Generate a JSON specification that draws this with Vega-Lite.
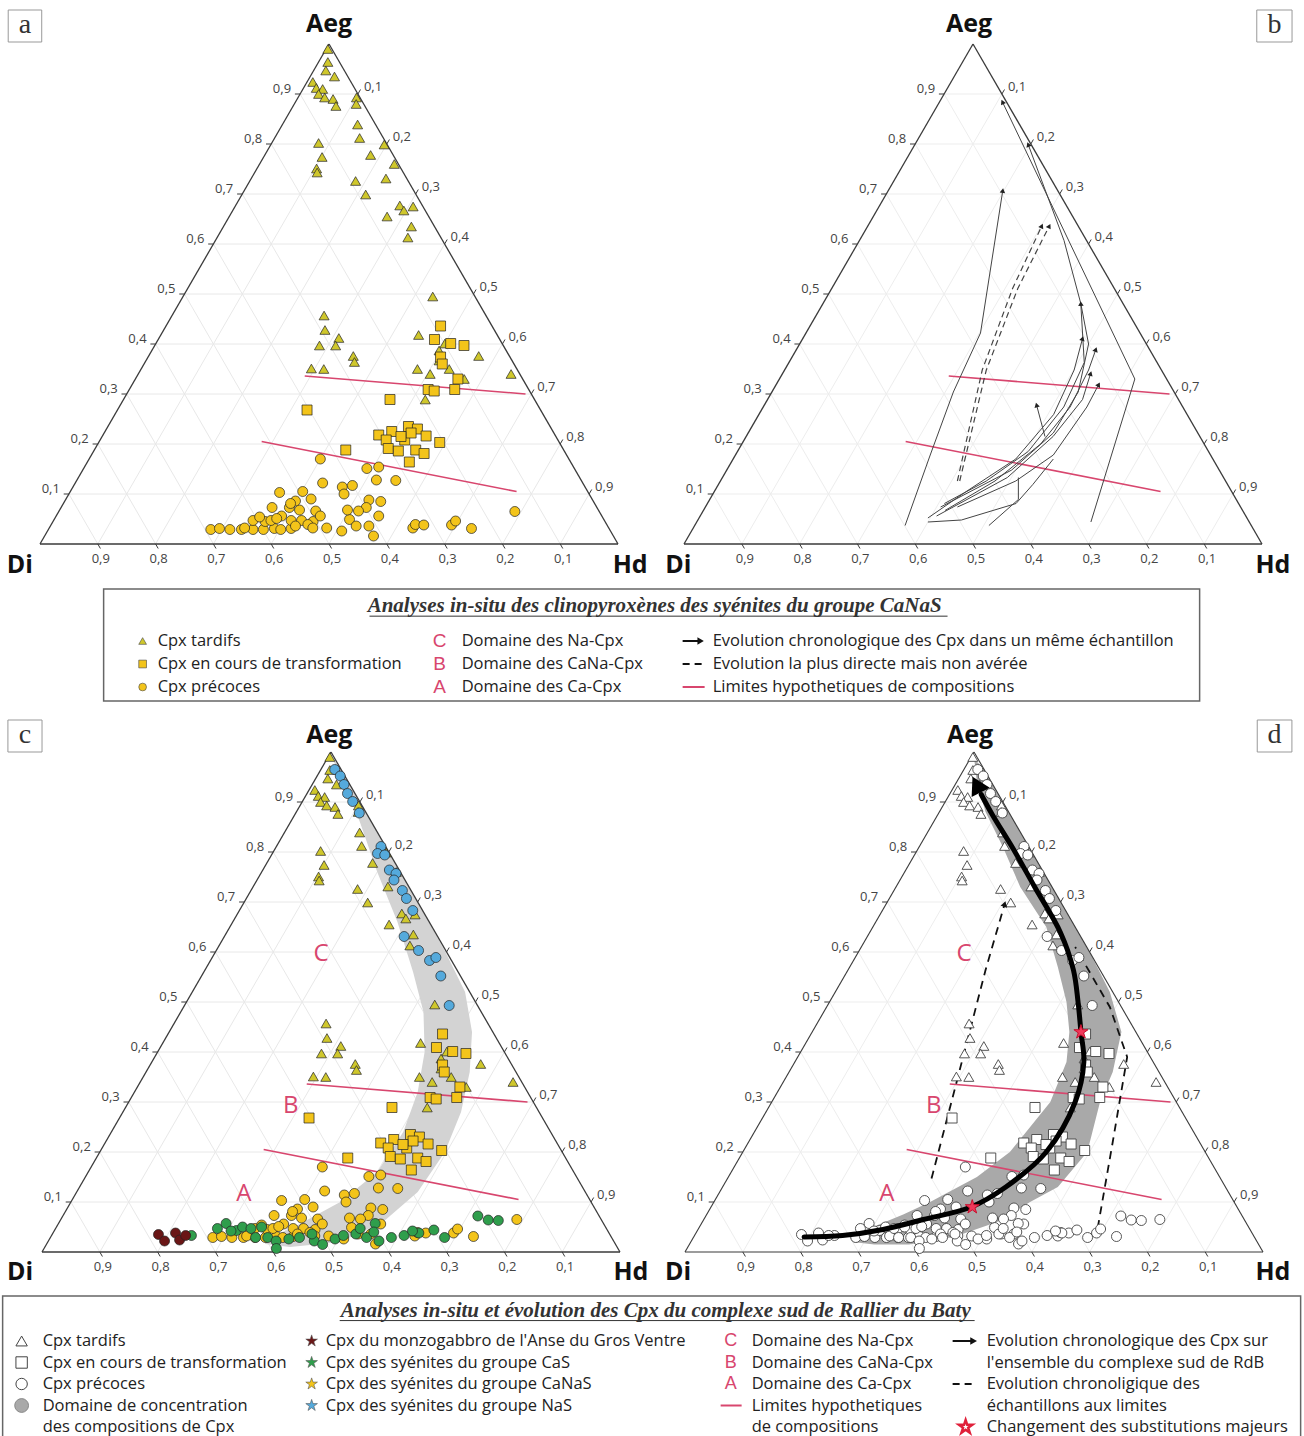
{
"$schema": "https://vega.github.io/schema/vega-lite/v6.json",
"padding": 0,
"background": "white",
"config": {"view": {"stroke": null}, "font": "Open Sans", "text": {"font": "Open Sans"}},
"spacing": 0,
"center": true,
"resolve": {"scale": {"x": "independent", "y": "independent", "shape": "independent", "fill": "independent", "color": "independent"}},
"datasets": {
"grid": [
{"aeg":0.1,"hd":0,"aeg2":0.1,"hd2":0.9},{"aeg":0,"hd":0.1,"aeg2":0.9,"hd2":0.1},{"aeg":0,"hd":0.1,"aeg2":0.1,"hd2":0},
{"aeg":0.2,"hd":0,"aeg2":0.2,"hd2":0.8},{"aeg":0,"hd":0.2,"aeg2":0.8,"hd2":0.2},{"aeg":0,"hd":0.2,"aeg2":0.2,"hd2":0},
{"aeg":0.3,"hd":0,"aeg2":0.3,"hd2":0.7},{"aeg":0,"hd":0.3,"aeg2":0.7,"hd2":0.3},{"aeg":0,"hd":0.3,"aeg2":0.3,"hd2":0},
{"aeg":0.4,"hd":0,"aeg2":0.4,"hd2":0.6},{"aeg":0,"hd":0.4,"aeg2":0.6,"hd2":0.4},{"aeg":0,"hd":0.4,"aeg2":0.4,"hd2":0},
{"aeg":0.5,"hd":0,"aeg2":0.5,"hd2":0.5},{"aeg":0,"hd":0.5,"aeg2":0.5,"hd2":0.5},{"aeg":0,"hd":0.5,"aeg2":0.5,"hd2":0},
{"aeg":0.6,"hd":0,"aeg2":0.6,"hd2":0.4},{"aeg":0,"hd":0.6,"aeg2":0.4,"hd2":0.6},{"aeg":0,"hd":0.6,"aeg2":0.6,"hd2":0},
{"aeg":0.7,"hd":0,"aeg2":0.7,"hd2":0.3},{"aeg":0,"hd":0.7,"aeg2":0.3,"hd2":0.7},{"aeg":0,"hd":0.7,"aeg2":0.7,"hd2":0},
{"aeg":0.8,"hd":0,"aeg2":0.8,"hd2":0.2},{"aeg":0,"hd":0.8,"aeg2":0.2,"hd2":0.8},{"aeg":0,"hd":0.8,"aeg2":0.8,"hd2":0},
{"aeg":0.9,"hd":0,"aeg2":0.9,"hd2":0.1},{"aeg":0,"hd":0.9,"aeg2":0.1,"hd2":0.9},{"aeg":0,"hd":0.9,"aeg2":0.9,"hd2":0}
],
"edges": [
{"aeg":0,"hd":0,"aeg2":1,"hd2":0},{"aeg":0,"hd":0,"aeg2":0,"hd2":1},{"aeg":0,"hd":1,"aeg2":1,"hd2":0}
],
"limits": [
{"aeg":0.336,"hd":0.29,"aeg2":0.30,"hd2":0.69},{"aeg":0.205,"hd":0.281,"aeg2":0.105,"hd2":0.772}
],
"ticks": [
{"ax":"L","aeg":0.1,"hd":0,"lab":"0,1"},{"ax":"L","aeg":0.2,"hd":0,"lab":"0,2"},{"ax":"L","aeg":0.3,"hd":0,"lab":"0,3"},{"ax":"L","aeg":0.4,"hd":0,"lab":"0,4"},{"ax":"L","aeg":0.5,"hd":0,"lab":"0,5"},{"ax":"L","aeg":0.6,"hd":0,"lab":"0,6"},{"ax":"L","aeg":0.7,"hd":0,"lab":"0,7"},{"ax":"L","aeg":0.8,"hd":0,"lab":"0,8"},{"ax":"L","aeg":0.9,"hd":0,"lab":"0,9"},
{"ax":"R","aeg":0.9,"hd":0.1,"lab":"0,1"},{"ax":"R","aeg":0.8,"hd":0.2,"lab":"0,2"},{"ax":"R","aeg":0.7,"hd":0.3,"lab":"0,3"},{"ax":"R","aeg":0.6,"hd":0.4,"lab":"0,4"},{"ax":"R","aeg":0.5,"hd":0.5,"lab":"0,5"},{"ax":"R","aeg":0.4,"hd":0.6,"lab":"0,6"},{"ax":"R","aeg":0.3,"hd":0.7,"lab":"0,7"},{"ax":"R","aeg":0.2,"hd":0.8,"lab":"0,8"},{"ax":"R","aeg":0.1,"hd":0.9,"lab":"0,9"},
{"ax":"B","aeg":0,"hd":0.1,"lab":"0,9"},{"ax":"B","aeg":0,"hd":0.2,"lab":"0,8"},{"ax":"B","aeg":0,"hd":0.3,"lab":"0,7"},{"ax":"B","aeg":0,"hd":0.4,"lab":"0,6"},{"ax":"B","aeg":0,"hd":0.5,"lab":"0,5"},{"ax":"B","aeg":0,"hd":0.6,"lab":"0,4"},{"ax":"B","aeg":0,"hd":0.7,"lab":"0,3"},{"ax":"B","aeg":0,"hd":0.8,"lab":"0,2"},{"ax":"B","aeg":0,"hd":0.9,"lab":"0,1"}
],
"letters": [
{"k":"C","aeg":0.596,"hd":0.185},{"k":"B","aeg":0.293,"hd":0.284},{"k":"A","aeg":0.116,"hd":0.291}
],
"bandc": [
{"aeg":0.024,"hd":0.374},{"aeg":0.056,"hd":0.418},{"aeg":0.10,"hd":0.466},{"aeg":0.16,"hd":0.50},{"aeg":0.24,"hd":0.505},{"aeg":0.32,"hd":0.49},{"aeg":0.40,"hd":0.462},{"aeg":0.48,"hd":0.42},{"aeg":0.56,"hd":0.362},{"aeg":0.66,"hd":0.285},{"aeg":0.76,"hd":0.20},{"aeg":0.86,"hd":0.12},{"aeg":0.94,"hd":0.052},{"aeg":0.99,"hd":0.006},
{"aeg":0.97,"hd":0.03},{"aeg":0.90,"hd":0.10},{"aeg":0.80,"hd":0.20},{"aeg":0.70,"hd":0.30},{"aeg":0.60,"hd":0.398},{"aeg":0.52,"hd":0.472},{"aeg":0.44,"hd":0.524},{"aeg":0.36,"hd":0.56},{"aeg":0.28,"hd":0.585},{"aeg":0.20,"hd":0.597},{"aeg":0.12,"hd":0.59},{"aeg":0.06,"hd":0.56},{"aeg":0.02,"hd":0.506},{"aeg":0.01,"hd":0.424},{"aeg":0.016,"hd":0.378}
],
"bandd": [
{"aeg":0.03,"hd":0.27},{"aeg":0.05,"hd":0.30},{"aeg":0.075,"hd":0.34},{"aeg":0.10,"hd":0.374},{"aeg":0.15,"hd":0.43},{"aeg":0.20,"hd":0.462},{"aeg":0.30,"hd":0.482},{"aeg":0.38,"hd":0.47},{"aeg":0.44,"hd":0.445},{"aeg":0.50,"hd":0.41},{"aeg":0.57,"hd":0.36},{"aeg":0.65,"hd":0.30},{"aeg":0.73,"hd":0.215},{"aeg":0.81,"hd":0.145},{"aeg":0.88,"hd":0.08},{"aeg":0.94,"hd":0.035},{"aeg":0.985,"hd":0.008},
{"aeg":0.97,"hd":0.03},{"aeg":0.90,"hd":0.10},{"aeg":0.80,"hd":0.20},{"aeg":0.70,"hd":0.30},{"aeg":0.60,"hd":0.40},{"aeg":0.52,"hd":0.475},{"aeg":0.44,"hd":0.535},{"aeg":0.36,"hd":0.56},{"aeg":0.30,"hd":0.568},{"aeg":0.20,"hd":0.596},{"aeg":0.13,"hd":0.58},{"aeg":0.10,"hd":0.547},{"aeg":0.06,"hd":0.51},{"aeg":0.03,"hd":0.45},{"aeg":0.015,"hd":0.38},{"aeg":0.015,"hd":0.32},{"aeg":0.02,"hd":0.28}
],
"paths": [
{"p":"b","id":"b1","kind":"obs","aeg":0.037,"hd":0.364},{"p":"b","id":"b1","kind":"obs","aeg":0.178,"hd":0.337},{"p":"b","id":"b1","kind":"obs","aeg":0.304,"hd":0.314},{"p":"b","id":"b1","kind":"obs","aeg":0.422,"hd":0.302},{"p":"b","id":"b1","kind":"obs","aeg":0.707,"hd":0.198},
{"p":"b","id":"b2","kind":"inf","aeg":0.126,"hd":0.41},{"p":"b","id":"b2","kind":"inf","aeg":0.348,"hd":0.342},{"p":"b","id":"b2","kind":"inf","aeg":0.511,"hd":0.313},{"p":"b","id":"b2","kind":"inf","aeg":0.636,"hd":0.301},
{"p":"b","id":"b3","kind":"inf","aeg":0.126,"hd":0.414},{"p":"b","id":"b3","kind":"inf","aeg":0.348,"hd":0.349},{"p":"b","id":"b3","kind":"inf","aeg":0.511,"hd":0.322},{"p":"b","id":"b3","kind":"inf","aeg":0.636,"hd":0.314},
{"p":"b","id":"b4","kind":"obs","aeg":0.044,"hd":0.682},{"p":"b","id":"b4","kind":"obs","aeg":0.33,"hd":0.615},{"p":"b","id":"b4","kind":"obs","aeg":0.884,"hd":0.109},
{"p":"b","id":"b5","kind":"obs","aeg":0.074,"hd":0.407},{"p":"b","id":"b5","kind":"obs","aeg":0.148,"hd":0.493},{"p":"b","id":"b5","kind":"obs","aeg":0.222,"hd":0.528},{"p":"b","id":"b5","kind":"obs","aeg":0.304,"hd":0.53},{"p":"b","id":"b5","kind":"obs","aeg":0.40,"hd":0.50},{"p":"b","id":"b5","kind":"obs","aeg":0.481,"hd":0.446},{"p":"b","id":"b5","kind":"obs","aeg":0.607,"hd":0.354},{"p":"b","id":"b5","kind":"obs","aeg":0.799,"hd":0.196},
{"p":"b","id":"b6","kind":"obs","aeg":0.052,"hd":0.396},{"p":"b","id":"b6","kind":"obs","aeg":0.104,"hd":0.435},{"p":"b","id":"b6","kind":"obs","aeg":0.170,"hd":0.489},{"p":"b","id":"b6","kind":"obs","aeg":0.259,"hd":0.51},{"p":"b","id":"b6","kind":"obs","aeg":0.348,"hd":0.501},{"p":"b","id":"b6","kind":"obs","aeg":0.411,"hd":0.484},
{"p":"b","id":"b7","kind":"obs","aeg":0.081,"hd":0.41},{"p":"b","id":"b7","kind":"obs","aeg":0.126,"hd":0.46},{"p":"b","id":"b7","kind":"obs","aeg":0.185,"hd":0.503},{"p":"b","id":"b7","kind":"obs","aeg":0.274,"hd":0.52},{"p":"b","id":"b7","kind":"obs","aeg":0.363,"hd":0.511},{"p":"b","id":"b7","kind":"obs","aeg":0.481,"hd":0.446},
{"p":"b","id":"b8","kind":"obs","aeg":0.067,"hd":0.418},{"p":"b","id":"b8","kind":"obs","aeg":0.126,"hd":0.475},{"p":"b","id":"b8","kind":"obs","aeg":0.20,"hd":0.517},{"p":"b","id":"b8","kind":"obs","aeg":0.274,"hd":0.531},{"p":"b","id":"b8","kind":"obs","aeg":0.348,"hd":0.526},{"p":"b","id":"b8","kind":"obs","aeg":0.389,"hd":0.518},
{"p":"b","id":"b9","kind":"obs","aeg":0.056,"hd":0.409},{"p":"b","id":"b9","kind":"obs","aeg":0.133,"hd":0.493},{"p":"b","id":"b9","kind":"obs","aeg":0.215,"hd":0.531},{"p":"b","id":"b9","kind":"obs","aeg":0.289,"hd":0.545},{"p":"b","id":"b9","kind":"obs","aeg":0.341,"hd":0.533},
{"p":"b","id":"b10","kind":"obs","aeg":0.074,"hd":0.436},{"p":"b","id":"b10","kind":"obs","aeg":0.126,"hd":0.511},{"p":"b","id":"b10","kind":"obs","aeg":0.178,"hd":0.55},{"p":"b","id":"b10","kind":"obs","aeg":0.274,"hd":0.56},{"p":"b","id":"b10","kind":"obs","aeg":0.319,"hd":0.558},
{"p":"b","id":"b11","kind":"obs","aeg":0.215,"hd":0.517},{"p":"b","id":"b11","kind":"obs","aeg":0.278,"hd":0.471},
{"p":"b","id":"b12","kind":"obs","aeg":0.044,"hd":0.40},{"p":"b","id":"b12","kind":"obs","aeg":0.048,"hd":0.456},{"p":"b","id":"b12","kind":"obs","aeg":0.081,"hd":0.534},{"p":"b","id":"b12","kind":"obs","aeg":0.119,"hd":0.544},{"p":"b","id":"b12","kind":"obs","aeg":0.170,"hd":0.554},
{"p":"b","id":"b13","kind":"obs","aeg":0.037,"hd":0.509},{"p":"b","id":"b13","kind":"obs","aeg":0.089,"hd":0.534},{"p":"b","id":"b13","kind":"obs","aeg":0.133,"hd":0.512},
{"p":"d","id":"d1","kind":"inf","aeg":0.147,"hd":0.353},{"p":"d","id":"d1","kind":"inf","aeg":0.336,"hd":0.301},{"p":"d","id":"d1","kind":"inf","aeg":0.564,"hd":0.238},{"p":"d","id":"d1","kind":"inf","aeg":0.696,"hd":0.205},
{"p":"d","id":"d2","kind":"inf","aeg":0.048,"hd":0.69},{"p":"d","id":"d2","kind":"inf","aeg":0.22,"hd":0.63},{"p":"d","id":"d2","kind":"inf","aeg":0.39,"hd":0.57},{"p":"d","id":"d2","kind":"inf","aeg":0.49,"hd":0.49},{"p":"d","id":"d2","kind":"inf","aeg":0.61,"hd":0.37},
{"p":"d","id":"dm","kind":"main","aeg":0.03,"hd":0.191},{"p":"d","id":"dm","kind":"main","aeg":0.033,"hd":0.256},{"p":"d","id":"dm","kind":"main","aeg":0.045,"hd":0.32},{"p":"d","id":"dm","kind":"main","aeg":0.065,"hd":0.38},{"p":"d","id":"dm","kind":"main","aeg":0.09,"hd":0.45},{"p":"d","id":"dm","kind":"main","aeg":0.13,"hd":0.49},{"p":"d","id":"dm","kind":"main","aeg":0.20,"hd":0.525},{"p":"d","id":"dm","kind":"main","aeg":0.30,"hd":0.525},{"p":"d","id":"dm","kind":"main","aeg":0.38,"hd":0.50},{"p":"d","id":"dm","kind":"main","aeg":0.44,"hd":0.465},{"p":"d","id":"dm","kind":"main","aeg":0.50,"hd":0.43},{"p":"d","id":"dm","kind":"main","aeg":0.564,"hd":0.39},{"p":"d","id":"dm","kind":"main","aeg":0.639,"hd":0.33},{"p":"d","id":"dm","kind":"main","aeg":0.73,"hd":0.24},{"p":"d","id":"dm","kind":"main","aeg":0.806,"hd":0.165},{"p":"d","id":"dm","kind":"main","aeg":0.874,"hd":0.095},{"p":"d","id":"dm","kind":"main","aeg":0.915,"hd":0.055}
],
"arrows": [
{"p":"b","aeg":0.707,"hd":0.198,"aeg0":0.422,"hd0":0.302},
{"p":"b","aeg":0.636,"hd":0.301,"aeg0":0.511,"hd0":0.313},
{"p":"b","aeg":0.636,"hd":0.314,"aeg0":0.511,"hd0":0.322},
{"p":"b","aeg":0.884,"hd":0.109,"aeg0":0.33,"hd0":0.615},
{"p":"b","aeg":0.799,"hd":0.196,"aeg0":0.607,"hd0":0.354},
{"p":"b","aeg":0.411,"hd":0.484,"aeg0":0.348,"hd0":0.501},
{"p":"b","aeg":0.481,"hd":0.446,"aeg0":0.363,"hd0":0.511},
{"p":"b","aeg":0.389,"hd":0.518,"aeg0":0.348,"hd0":0.526},
{"p":"b","aeg":0.341,"hd":0.533,"aeg0":0.289,"hd0":0.545},
{"p":"b","aeg":0.319,"hd":0.558,"aeg0":0.274,"hd0":0.56},
{"p":"b","aeg":0.278,"hd":0.471,"aeg0":0.215,"hd0":0.517},
{"p":"d","aeg":0.696,"hd":0.205,"aeg0":0.564,"hd0":0.238},
{"p":"dm","aeg":0.935,"hd":0.037,"aeg0":0.874,"hd0":0.095}
],
"stars": [
{"aeg":0.44,"hd":0.465},{"aeg":0.09,"hd":0.452}
],
"pts": [
{"grp":"CaNaS","stage":"tardif","aeg":0.99,"hd":0.003},{"grp":"CaNaS","stage":"tardif","aeg":0.964,"hd":0.016},{"grp":"CaNaS","stage":"tardif","aeg":0.947,"hd":0.021},{"grp":"CaNaS","stage":"tardif","aeg":0.935,"hd":0.042},{"grp":"CaNaS","stage":"tardif","aeg":0.924,"hd":0.010},{"grp":"CaNaS","stage":"tardif","aeg":0.912,"hd":0.022},{"grp":"CaNaS","stage":"tardif","aeg":0.910,"hd":0.034},{"grp":"CaNaS","stage":"tardif","aeg":0.900,"hd":0.032},{"grp":"CaNaS","stage":"tardif","aeg":0.893,"hd":0.046},{"grp":"CaNaS","stage":"tardif","aeg":0.890,"hd":0.062},{"grp":"CaNaS","stage":"tardif","aeg":0.876,"hd":0.074},{"grp":"CaNaS","stage":"tardif","aeg":0.893,"hd":0.101},{"grp":"CaNaS","stage":"tardif","aeg":0.880,"hd":0.107},{"grp":"CaNaS","stage":"tardif","aeg":0.839,"hd":0.130},{"grp":"CaNaS","stage":"tardif","aeg":0.812,"hd":0.147},{"grp":"CaNaS","stage":"tardif","aeg":0.799,"hd":0.196},{"grp":"CaNaS","stage":"tardif","aeg":0.778,"hd":0.183},{"grp":"CaNaS","stage":"tardif","aeg":0.760,"hd":0.233},{"grp":"CaNaS","stage":"tardif","aeg":0.731,"hd":0.233},{"grp":"CaNaS","stage":"tardif","aeg":0.726,"hd":0.183},{"grp":"CaNaS","stage":"tardif","aeg":0.699,"hd":0.214},{"grp":"CaNaS","stage":"tardif","aeg":0.802,"hd":0.081},{"grp":"CaNaS","stage":"tardif","aeg":0.774,"hd":0.101},{"grp":"CaNaS","stage":"tardif","aeg":0.751,"hd":0.103},{"grp":"CaNaS","stage":"tardif","aeg":0.743,"hd":0.108},{"grp":"CaNaS","stage":"tardif","aeg":0.677,"hd":0.284},{"grp":"CaNaS","stage":"tardif","aeg":0.667,"hd":0.296},{"grp":"CaNaS","stage":"tardif","aeg":0.675,"hd":0.308},{"grp":"CaNaS","stage":"tardif","aeg":0.655,"hd":0.273},{"grp":"CaNaS","stage":"tardif","aeg":0.635,"hd":0.325},{"grp":"CaNaS","stage":"tardif","aeg":0.613,"hd":0.330},{"grp":"CaNaS","stage":"tardif","aeg":0.495,"hd":0.432},{"grp":"CaNaS","stage":"tardif","aeg":0.457,"hd":0.263},{"grp":"CaNaS","stage":"tardif","aeg":0.428,"hd":0.279},{"grp":"CaNaS","stage":"tardif","aeg":0.412,"hd":0.311},{"grp":"CaNaS","stage":"tardif","aeg":0.397,"hd":0.285},{"grp":"CaNaS","stage":"tardif","aeg":0.397,"hd":0.313},{"grp":"CaNaS","stage":"tardif","aeg":0.376,"hd":0.354},{"grp":"CaNaS","stage":"tardif","aeg":0.364,"hd":0.362},{"grp":"CaNaS","stage":"tardif","aeg":0.351,"hd":0.294},{"grp":"CaNaS","stage":"tardif","aeg":0.350,"hd":0.316},{"grp":"CaNaS","stage":"tardif","aeg":0.418,"hd":0.446},{"grp":"CaNaS","stage":"tardif","aeg":0.387,"hd":0.497},{"grp":"CaNaS","stage":"tardif","aeg":0.401,"hd":0.500},{"grp":"CaNaS","stage":"tardif","aeg":0.376,"hd":0.571},{"grp":"CaNaS","stage":"tardif","aeg":0.350,"hd":0.478},{"grp":"CaNaS","stage":"tardif","aeg":0.340,"hd":0.505},{"grp":"CaNaS","stage":"tardif","aeg":0.350,"hd":0.533},{"grp":"CaNaS","stage":"tardif","aeg":0.330,"hd":0.569},{"grp":"CaNaS","stage":"tardif","aeg":0.340,"hd":0.645},{"grp":"CaNaS","stage":"tardif","aeg":0.289,"hd":0.522},{"grp":"CaNaS","stage":"tardif","aeg":0.367,"hd":0.507},
{"grp":"CaNaS","stage":"transfo","aeg":0.436,"hd":0.475},{"grp":"CaNaS","stage":"transfo","aeg":0.409,"hd":0.478},{"grp":"CaNaS","stage":"transfo","aeg":0.401,"hd":0.510},{"grp":"CaNaS","stage":"transfo","aeg":0.397,"hd":0.535},{"grp":"CaNaS","stage":"transfo","aeg":0.374,"hd":0.506},{"grp":"CaNaS","stage":"transfo","aeg":0.360,"hd":0.516},{"grp":"CaNaS","stage":"transfo","aeg":0.330,"hd":0.558},{"grp":"CaNaS","stage":"transfo","aeg":0.309,"hd":0.563},{"grp":"CaNaS","stage":"transfo","aeg":0.309,"hd":0.517},{"grp":"CaNaS","stage":"transfo","aeg":0.306,"hd":0.529},{"grp":"CaNaS","stage":"transfo","aeg":0.289,"hd":0.461},{"grp":"CaNaS","stage":"transfo","aeg":0.268,"hd":0.328},{"grp":"CaNaS","stage":"transfo","aeg":0.218,"hd":0.477},{"grp":"CaNaS","stage":"transfo","aeg":0.225,"hd":0.496},{"grp":"CaNaS","stage":"transfo","aeg":0.235,"hd":0.520},{"grp":"CaNaS","stage":"transfo","aeg":0.230,"hd":0.538},{"grp":"CaNaS","stage":"transfo","aeg":0.216,"hd":0.560},{"grp":"CaNaS","stage":"transfo","aeg":0.203,"hd":0.590},{"grp":"CaNaS","stage":"transfo","aeg":0.208,"hd":0.495},{"grp":"CaNaS","stage":"transfo","aeg":0.208,"hd":0.527},{"grp":"CaNaS","stage":"transfo","aeg":0.191,"hd":0.507},{"grp":"CaNaS","stage":"transfo","aeg":0.186,"hd":0.527},{"grp":"CaNaS","stage":"transfo","aeg":0.188,"hd":0.556},{"grp":"CaNaS","stage":"transfo","aeg":0.181,"hd":0.574},{"grp":"CaNaS","stage":"transfo","aeg":0.164,"hd":0.557},{"grp":"CaNaS","stage":"transfo","aeg":0.188,"hd":0.435},{"grp":"CaNaS","stage":"transfo","aeg":0.222,"hd":0.531},{"grp":"CaNaS","stage":"transfo","aeg":0.215,"hd":0.517},
{"grp":"CaNaS","stage":"precoce","aeg":0.029,"hd":0.281},{"grp":"CaNaS","stage":"precoce","aeg":0.031,"hd":0.295},{"grp":"CaNaS","stage":"precoce","aeg":0.029,"hd":0.314},{"grp":"CaNaS","stage":"precoce","aeg":0.029,"hd":0.334},{"grp":"CaNaS","stage":"precoce","aeg":0.029,"hd":0.354},{"grp":"CaNaS","stage":"precoce","aeg":0.029,"hd":0.372},{"grp":"CaNaS","stage":"precoce","aeg":0.031,"hd":0.390},{"grp":"CaNaS","stage":"precoce","aeg":0.029,"hd":0.402},{"grp":"CaNaS","stage":"precoce","aeg":0.031,"hd":0.419},{"grp":"CaNaS","stage":"precoce","aeg":0.032,"hd":0.480},{"grp":"CaNaS","stage":"precoce","aeg":0.047,"hd":0.345},{"grp":"CaNaS","stage":"precoce","aeg":0.045,"hd":0.367},{"grp":"CaNaS","stage":"precoce","aeg":0.047,"hd":0.376},{"grp":"CaNaS","stage":"precoce","aeg":0.047,"hd":0.411},{"grp":"CaNaS","stage":"precoce","aeg":0.047,"hd":0.429},{"grp":"CaNaS","stage":"precoce","aeg":0.045,"hd":0.450},{"grp":"CaNaS","stage":"precoce","aeg":0.049,"hd":0.511},{"grp":"CaNaS","stage":"precoce","aeg":0.036,"hd":0.529},{"grp":"CaNaS","stage":"precoce","aeg":0.036,"hd":0.551},{"grp":"CaNaS","stage":"precoce","aeg":0.016,"hd":0.569},{"grp":"CaNaS","stage":"precoce","aeg":0.073,"hd":0.365},{"grp":"CaNaS","stage":"precoce","aeg":0.073,"hd":0.395},{"grp":"CaNaS","stage":"precoce","aeg":0.068,"hd":0.415},{"grp":"CaNaS","stage":"precoce","aeg":0.066,"hd":0.444},{"grp":"CaNaS","stage":"precoce","aeg":0.056,"hd":0.390},{"grp":"CaNaS","stage":"precoce","aeg":0.068,"hd":0.498},{"grp":"CaNaS","stage":"precoce","aeg":0.056,"hd":0.558},{"grp":"CaNaS","stage":"precoce","aeg":0.032,"hd":0.629},{"grp":"CaNaS","stage":"precoce","aeg":0.039,"hd":0.630},{"grp":"CaNaS","stage":"precoce","aeg":0.038,"hd":0.645},{"grp":"CaNaS","stage":"precoce","aeg":0.038,"hd":0.693},{"grp":"CaNaS","stage":"precoce","aeg":0.046,"hd":0.696},{"grp":"CaNaS","stage":"precoce","aeg":0.031,"hd":0.731},{"grp":"CaNaS","stage":"precoce","aeg":0.065,"hd":0.789},{"grp":"CaNaS","stage":"precoce","aeg":0.103,"hd":0.363},{"grp":"CaNaS","stage":"precoce","aeg":0.105,"hd":0.402},{"grp":"CaNaS","stage":"precoce","aeg":0.090,"hd":0.424},{"grp":"CaNaS","stage":"precoce","aeg":0.086,"hd":0.399},{"grp":"CaNaS","stage":"precoce","aeg":0.081,"hd":0.393},{"grp":"CaNaS","stage":"precoce","aeg":0.088,"hd":0.525},{"grp":"CaNaS","stage":"precoce","aeg":0.085,"hd":0.547},{"grp":"CaNaS","stage":"precoce","aeg":0.073,"hd":0.528},{"grp":"CaNaS","stage":"precoce","aeg":0.114,"hd":0.466},{"grp":"CaNaS","stage":"precoce","aeg":0.100,"hd":0.476},{"grp":"CaNaS","stage":"precoce","aeg":0.117,"hd":0.482},{"grp":"CaNaS","stage":"precoce","aeg":0.122,"hd":0.428},{"grp":"CaNaS","stage":"precoce","aeg":0.128,"hd":0.518},{"grp":"CaNaS","stage":"precoce","aeg":0.127,"hd":0.552},{"grp":"CaNaS","stage":"precoce","aeg":0.151,"hd":0.490},{"grp":"CaNaS","stage":"precoce","aeg":0.154,"hd":0.509},{"grp":"CaNaS","stage":"precoce","aeg":0.170,"hd":0.400},{"grp":"CaNaS","stage":"precoce","aeg":0.054,"hd":0.353},{"grp":"CaNaS","stage":"precoce","aeg":0.051,"hd":0.384},{"grp":"CaNaS","stage":"precoce","aeg":0.036,"hd":0.424},{"grp":"CaNaS","stage":"precoce","aeg":0.039,"hd":0.444},{"grp":"CaNaS","stage":"precoce","aeg":0.032,"hd":0.456},{"grp":"CaNaS","stage":"precoce","aeg":0.056,"hd":0.457},{"grp":"CaNaS","stage":"precoce","aeg":0.032,"hd":0.338},{"grp":"CaNaS","stage":"precoce","aeg":0.026,"hd":0.509},{"grp":"CaNaS","stage":"precoce","aeg":0.066,"hd":0.518},
{"grp":"NaS","stage":"precoce","aeg":0.965,"hd":0.024},{"grp":"NaS","stage":"precoce","aeg":0.952,"hd":0.040},{"grp":"NaS","stage":"precoce","aeg":0.935,"hd":0.055},{"grp":"NaS","stage":"precoce","aeg":0.917,"hd":0.070},{"grp":"NaS","stage":"precoce","aeg":0.901,"hd":0.087},{"grp":"NaS","stage":"precoce","aeg":0.878,"hd":0.110},{"grp":"NaS","stage":"precoce","aeg":0.811,"hd":0.181},{"grp":"NaS","stage":"precoce","aeg":0.797,"hd":0.182},{"grp":"NaS","stage":"precoce","aeg":0.794,"hd":0.196},{"grp":"NaS","stage":"precoce","aeg":0.764,"hd":0.219},{"grp":"NaS","stage":"precoce","aeg":0.757,"hd":0.234},{"grp":"NaS","stage":"precoce","aeg":0.744,"hd":0.237},{"grp":"NaS","stage":"precoce","aeg":0.723,"hd":0.262},{"grp":"NaS","stage":"precoce","aeg":0.707,"hd":0.277},{"grp":"NaS","stage":"precoce","aeg":0.683,"hd":0.300},{"grp":"NaS","stage":"precoce","aeg":0.631,"hd":0.311},{"grp":"NaS","stage":"precoce","aeg":0.603,"hd":0.350},{"grp":"NaS","stage":"precoce","aeg":0.583,"hd":0.379},{"grp":"NaS","stage":"precoce","aeg":0.589,"hd":0.387},{"grp":"NaS","stage":"precoce","aeg":0.552,"hd":0.414},{"grp":"NaS","stage":"precoce","aeg":0.493,"hd":0.458},
{"grp":"CaS","stage":"precoce","aeg":0.033,"hd":0.242},{"grp":"CaS","stage":"precoce","aeg":0.047,"hd":0.280},{"grp":"CaS","stage":"precoce","aeg":0.057,"hd":0.290},{"grp":"CaS","stage":"precoce","aeg":0.043,"hd":0.315},{"grp":"CaS","stage":"precoce","aeg":0.050,"hd":0.322},{"grp":"CaS","stage":"precoce","aeg":0.047,"hd":0.338},{"grp":"CaS","stage":"precoce","aeg":0.029,"hd":0.355},{"grp":"CaS","stage":"precoce","aeg":0.029,"hd":0.376},{"grp":"CaS","stage":"precoce","aeg":0.022,"hd":0.394},{"grp":"CaS","stage":"precoce","aeg":0.007,"hd":0.402},{"grp":"CaS","stage":"precoce","aeg":0.026,"hd":0.414},{"grp":"CaS","stage":"precoce","aeg":0.029,"hd":0.431},{"grp":"CaS","stage":"precoce","aeg":0.022,"hd":0.460},{"grp":"CaS","stage":"precoce","aeg":0.015,"hd":0.478},{"grp":"CaS","stage":"precoce","aeg":0.026,"hd":0.494},{"grp":"CaS","stage":"precoce","aeg":0.033,"hd":0.505},{"grp":"CaS","stage":"precoce","aeg":0.036,"hd":0.525},{"grp":"CaS","stage":"precoce","aeg":0.029,"hd":0.547},{"grp":"CaS","stage":"precoce","aeg":0.057,"hd":0.548},{"grp":"CaS","stage":"precoce","aeg":0.040,"hd":0.554},{"grp":"CaS","stage":"precoce","aeg":0.022,"hd":0.572},{"grp":"CaS","stage":"precoce","aeg":0.029,"hd":0.590},{"grp":"CaS","stage":"precoce","aeg":0.033,"hd":0.610},{"grp":"CaS","stage":"precoce","aeg":0.038,"hd":0.633},{"grp":"CaS","stage":"precoce","aeg":0.044,"hd":0.656},{"grp":"CaS","stage":"precoce","aeg":0.029,"hd":0.682},{"grp":"CaS","stage":"precoce","aeg":0.072,"hd":0.718},{"grp":"CaS","stage":"precoce","aeg":0.064,"hd":0.740},{"grp":"CaS","stage":"precoce","aeg":0.063,"hd":0.758},{"grp":"CaS","stage":"precoce","aeg":0.042,"hd":0.306},{"grp":"CaS","stage":"precoce","aeg":0.050,"hd":0.355},{"grp":"CaS","stage":"precoce","aeg":0.036,"hd":0.449},{"grp":"CaS","stage":"precoce","aeg":0.047,"hd":0.527},{"grp":"CaS","stage":"precoce","aeg":0.042,"hd":0.620},
{"grp":"MGV","stage":"precoce","aeg":0.035,"hd":0.184},{"grp":"MGV","stage":"precoce","aeg":0.022,"hd":0.201},{"grp":"MGV","stage":"precoce","aeg":0.038,"hd":0.212},{"grp":"MGV","stage":"precoce","aeg":0.024,"hd":0.226},{"grp":"MGV","stage":"precoce","aeg":0.033,"hd":0.232}
],
"leg1": [
{"c":0,"r":0,"t":"Cpx tardifs","k":"tardif"},{"c":0,"r":1,"t":"Cpx en cours de transformation","k":"transfo"},{"c":0,"r":2,"t":"Cpx précoces","k":"precoce"},
{"c":1,"r":0,"t":"Domaine des Na-Cpx","k":"C"},{"c":1,"r":1,"t":"Domaine des CaNa-Cpx","k":"B"},{"c":1,"r":2,"t":"Domaine des Ca-Cpx","k":"A"},
{"c":2,"r":0,"t":"Evolution chronologique des Cpx dans un même échantillon","k":"arrow"},{"c":2,"r":1,"t":"Evolution la plus directe mais non avérée","k":"dash"},{"c":2,"r":2,"t":"Limites hypothetiques de compositions","k":"limit"}
],
"leg2": [
{"c":0,"r":0,"t":"Cpx tardifs","k":"tardif"},{"c":0,"r":1,"t":"Cpx en cours de transformation","k":"transfo"},{"c":0,"r":2,"t":"Cpx précoces","k":"precoce"},{"c":0,"r":3,"t":"Domaine de concentration","k":"band"},{"c":0,"r":4,"t":"des compositions de Cpx","k":""},
{"c":1,"r":0,"t":"Cpx du monzogabbro de l'Anse du Gros Ventre","k":"MGV"},{"c":1,"r":1,"t":"Cpx des syénites du groupe CaS","k":"CaS"},{"c":1,"r":2,"t":"Cpx des syénites du groupe CaNaS","k":"CaNaS"},{"c":1,"r":3,"t":"Cpx des syénites du groupe NaS","k":"NaS"},
{"c":2,"r":0,"t":"Domaine des Na-Cpx","k":"C"},{"c":2,"r":1,"t":"Domaine des CaNa-Cpx","k":"B"},{"c":2,"r":2,"t":"Domaine des Ca-Cpx","k":"A"},{"c":2,"r":3,"t":"Limites hypothetiques","k":"limit"},{"c":2,"r":4,"t":"de compositions","k":""},
{"c":3,"r":0,"t":"Evolution chronologique des Cpx sur","k":"arrow"},{"c":3,"r":1,"t":"l'ensemble du complexe sud de RdB","k":""},{"c":3,"r":2,"t":"Evolution chronoligique des","k":"dash"},{"c":3,"r":3,"t":"échantillons aux limites","k":""},{"c":3,"r":4,"t":"Changement des substitutions majeurs","k":"change"}
]
},
"vconcat": [
{"hconcat": [
{"width": 652, "height": 588,
 "layer": [
 {"encoding": {"x": {"field":"X","type":"quantitative","scale":{"domain":[-0.0692,1.0588],"nice":false,"zero":false},"axis":null},
               "y": {"field":"aeg","type":"quantitative","scale":{"domain":[-0.088,1.088],"nice":false,"zero":false},"axis":null}},
  "layer": [
  {"data":{"name":"grid"},"transform":[{"calculate":"datum.hd+datum.aeg/2","as":"X"},{"calculate":"datum.hd2+datum.aeg2/2","as":"X2"}],"mark":{"type":"rule","stroke":"#e8e8e8","strokeWidth":1},"encoding":{"x2":{"field":"X2"},"y2":{"field":"aeg2"}}},
  {"data":{"name":"edges"},"transform":[{"calculate":"datum.hd+datum.aeg/2","as":"X"},{"calculate":"datum.hd2+datum.aeg2/2","as":"X2"}],"mark":{"type":"rule","stroke":"#3a3a3a","strokeWidth":1.3},"encoding":{"x2":{"field":"X2"},"y2":{"field":"aeg2"}}},
  {"data":{"name":"ticks"},"transform":[{"calculate":"datum.hd+datum.aeg/2","as":"X"},{"calculate":"datum.ax=='R' ? datum.aeg+0.009 : (datum.ax=='B' ? -0.009 : datum.aeg)","as":"aeg2"},{"calculate":"datum.ax=='L' ? -0.009 : (datum.ax=='B' ? datum.hd+0.009 : datum.hd)","as":"hd2"},{"calculate":"datum.hd2+datum.aeg2/2","as":"X2"}],"mark":{"type":"rule","stroke":"#3a3a3a","strokeWidth":1},"encoding":{"x2":{"field":"X2"},"y2":{"field":"aeg2"}}},
  {"data":{"name":"ticks"},"transform":[{"filter":"datum.ax=='L'"},{"calculate":"datum.hd+datum.aeg/2","as":"X"}],"mark":{"type":"text","align":"right","baseline":"middle","dx":-9,"dy":-5,"fontSize":13,"color":"#444"},"encoding":{"text":{"field":"lab"}}},
  {"data":{"name":"ticks"},"transform":[{"filter":"datum.ax=='R'"},{"calculate":"datum.hd+datum.aeg/2","as":"X"}],"mark":{"type":"text","align":"left","baseline":"middle","dx":6,"dy":-7,"fontSize":13,"color":"#444"},"encoding":{"text":{"field":"lab"}}},
  {"data":{"name":"ticks"},"transform":[{"filter":"datum.ax=='B'"},{"calculate":"datum.hd+datum.aeg/2","as":"X"}],"mark":{"type":"text","align":"center","baseline":"middle","dx":3,"dy":15,"fontSize":13,"color":"#444"},"encoding":{"text":{"field":"lab"}}},
  {"data":{"name":"limits"},"transform":[{"calculate":"datum.hd+datum.aeg/2","as":"X"},{"calculate":"datum.hd2+datum.aeg2/2","as":"X2"}],"mark":{"type":"rule","stroke":"#d8466e","strokeWidth":1.6},"encoding":{"x2":{"field":"X2"},"y2":{"field":"aeg2"}}},
  {"data":{"name":"pts"},"transform":[{"filter":"datum.grp=='CaNaS'"},{"calculate":"datum.hd+datum.aeg/2","as":"X"}],"mark":{"type":"point","filled":true,"size":100,"stroke":"#222","strokeWidth":0.7,"opacity":1},
   "encoding":{"shape":{"field":"stage","type":"nominal","scale":{"domain":["tardif","transfo","precoce"],"range":["triangle-up","square","circle"]},"legend":null},
               "fill":{"field":"stage","type":"nominal","scale":{"domain":["tardif","transfo","precoce"],"range":["#cfc72c","#f3c41a","#f3c41a"]},"legend":null}}}
  ]},
 {"layer": [
  {"data":{"values":[{}]},"mark":{"type":"text","text":"Aeg","fontSize":25,"fontWeight":"bold","color":"#111","baseline":"middle"},"encoding":{"x":{"datum":0.5,"type":"quantitative"},"y":{"datum":1.04,"type":"quantitative"}}},
  {"data":{"values":[{}]},"mark":{"type":"text","text":"Di","fontSize":25,"fontWeight":"bold","color":"#111","baseline":"middle"},"encoding":{"x":{"datum":-0.035,"type":"quantitative"},"y":{"datum":-0.042,"type":"quantitative"}}},
  {"data":{"values":[{}]},"mark":{"type":"text","text":"Hd","fontSize":25,"fontWeight":"bold","color":"#111","baseline":"middle"},"encoding":{"x":{"datum":1.021,"type":"quantitative"},"y":{"datum":-0.042,"type":"quantitative"}}},
  {"data":{"values":[{}]},"mark":{"type":"rect","fill":"#fff","stroke":"#999","strokeWidth":1},"encoding":{"x":{"datum":-0.055,"type":"quantitative"},"x2":{"datum":0.003},"y":{"datum":1.068,"type":"quantitative"},"y2":{"datum":1.004}}},
  {"data":{"values":[{}]},"mark":{"type":"text","text":"a","font":"Liberation Serif","fontSize":28,"color":"#333","baseline":"middle"},"encoding":{"x":{"datum":-0.026,"type":"quantitative"},"y":{"datum":1.038,"type":"quantitative"}}}
 ]}
 ]},
{"width": 652, "height": 588,
 "layer": [
 {"encoding": {"x": {"field":"X","type":"quantitative","scale":{"domain":[-0.0554,1.0727],"nice":false,"zero":false},"axis":null},
               "y": {"field":"aeg","type":"quantitative","scale":{"domain":[-0.088,1.088],"nice":false,"zero":false},"axis":null}},
  "layer": [
  {"data":{"name":"grid"},"transform":[{"calculate":"datum.hd+datum.aeg/2","as":"X"},{"calculate":"datum.hd2+datum.aeg2/2","as":"X2"}],"mark":{"type":"rule","stroke":"#ededed","strokeWidth":1},"encoding":{"x2":{"field":"X2"},"y2":{"field":"aeg2"}}},
  {"data":{"name":"edges"},"transform":[{"calculate":"datum.hd+datum.aeg/2","as":"X"},{"calculate":"datum.hd2+datum.aeg2/2","as":"X2"}],"mark":{"type":"rule","stroke":"#3a3a3a","strokeWidth":1.3},"encoding":{"x2":{"field":"X2"},"y2":{"field":"aeg2"}}},
  {"data":{"name":"ticks"},"transform":[{"calculate":"datum.hd+datum.aeg/2","as":"X"},{"calculate":"datum.ax=='R' ? datum.aeg+0.009 : (datum.ax=='B' ? -0.009 : datum.aeg)","as":"aeg2"},{"calculate":"datum.ax=='L' ? -0.009 : (datum.ax=='B' ? datum.hd+0.009 : datum.hd)","as":"hd2"},{"calculate":"datum.hd2+datum.aeg2/2","as":"X2"}],"mark":{"type":"rule","stroke":"#3a3a3a","strokeWidth":1},"encoding":{"x2":{"field":"X2"},"y2":{"field":"aeg2"}}},
  {"data":{"name":"ticks"},"transform":[{"filter":"datum.ax=='L'"},{"calculate":"datum.hd+datum.aeg/2","as":"X"}],"mark":{"type":"text","align":"right","baseline":"middle","dx":-9,"dy":-5,"fontSize":13,"color":"#444"},"encoding":{"text":{"field":"lab"}}},
  {"data":{"name":"ticks"},"transform":[{"filter":"datum.ax=='R'"},{"calculate":"datum.hd+datum.aeg/2","as":"X"}],"mark":{"type":"text","align":"left","baseline":"middle","dx":6,"dy":-7,"fontSize":13,"color":"#444"},"encoding":{"text":{"field":"lab"}}},
  {"data":{"name":"ticks"},"transform":[{"filter":"datum.ax=='B'"},{"calculate":"datum.hd+datum.aeg/2","as":"X"}],"mark":{"type":"text","align":"center","baseline":"middle","dx":3,"dy":15,"fontSize":13,"color":"#444"},"encoding":{"text":{"field":"lab"}}},
  {"data":{"name":"limits"},"transform":[{"calculate":"datum.hd+datum.aeg/2","as":"X"},{"calculate":"datum.hd2+datum.aeg2/2","as":"X2"}],"mark":{"type":"rule","stroke":"#d8466e","strokeWidth":1.6},"encoding":{"x2":{"field":"X2"},"y2":{"field":"aeg2"}}},
  {"data":{"name":"paths"},"transform":[{"filter":"datum.p=='b' && datum.kind=='obs'"},{"calculate":"datum.hd+datum.aeg/2","as":"X"}],"mark":{"type":"line","stroke":"#444","strokeWidth":1},"encoding":{"detail":{"field":"id"},"order":{"value":null}}},
  {"data":{"name":"paths"},"transform":[{"filter":"datum.p=='b' && datum.kind=='inf'"},{"calculate":"datum.hd+datum.aeg/2","as":"X"}],"mark":{"type":"line","stroke":"#444","strokeWidth":1.2,"strokeDash":[6,4]},"encoding":{"detail":{"field":"id"},"order":{"value":null}}},
  {"data":{"name":"arrows"},"transform":[{"filter":"datum.p=='b'"},{"calculate":"datum.hd+datum.aeg/2","as":"X"},{"calculate":"atan2((datum.hd+datum.aeg/2-datum.hd0-datum.aeg0/2)*578,(datum.aeg-datum.aeg0)*500)*180/PI","as":"ang"}],"mark":{"type":"point","shape":"triangle-up","filled":true,"fill":"#222","size":30,"opacity":1},"encoding":{"angle":{"field":"ang","type":"quantitative","scale":null}}}
  ]},
 {"layer": [
  {"data":{"values":[{}]},"mark":{"type":"text","text":"Aeg","fontSize":25,"fontWeight":"bold","color":"#111","baseline":"middle"},"encoding":{"x":{"datum":0.493,"type":"quantitative"},"y":{"datum":1.04,"type":"quantitative"}}},
  {"data":{"values":[{}]},"mark":{"type":"text","text":"Di","fontSize":25,"fontWeight":"bold","color":"#111","baseline":"middle"},"encoding":{"x":{"datum":-0.01,"type":"quantitative"},"y":{"datum":-0.042,"type":"quantitative"}}},
  {"data":{"values":[{}]},"mark":{"type":"text","text":"Hd","fontSize":25,"fontWeight":"bold","color":"#111","baseline":"middle"},"encoding":{"x":{"datum":1.019,"type":"quantitative"},"y":{"datum":-0.042,"type":"quantitative"}}},
  {"data":{"values":[{}]},"mark":{"type":"rect","fill":"#fff","stroke":"#999","strokeWidth":1},"encoding":{"x":{"datum":0.991,"type":"quantitative"},"x2":{"datum":1.052},"y":{"datum":1.068,"type":"quantitative"},"y2":{"datum":1.004}}},
  {"data":{"values":[{}]},"mark":{"type":"text","text":"b","font":"Liberation Serif","fontSize":28,"color":"#333","baseline":"middle"},"encoding":{"x":{"datum":1.0215,"type":"quantitative"},"y":{"datum":1.038,"type":"quantitative"}}}
 ]}
 ]}
], "spacing": 0, "bounds": "flush", "resolve": {"scale": {"x": "independent", "y": "independent", "shape": "independent", "fill": "independent", "color": "independent"}}},
{"width": 1096, "height": 112,
 "view": {"stroke": "#666", "strokeWidth": 1.5},
 "data": {"name": "leg1"},
 "layer": [
 {"encoding": {"x": {"field":"c","type":"quantitative","scale":{"domain":[0,1,2],"range":[54,358,609]},"axis":null},
               "y": {"field":"r","type":"quantitative","scale":{"domain":[0,2],"range":[52,98]},"axis":null}},
  "layer": [
  {"mark":{"type":"text","align":"left","baseline":"middle","fontSize":16.5,"color":"#222"},"encoding":{"text":{"field":"t"}}},
  {"transform":[{"filter":"datum.c==0"}],"mark":{"type":"point","filled":true,"size":60,"stroke":"#444","strokeWidth":0.6,"opacity":1,"xOffset":-15},
   "encoding":{"shape":{"field":"k","type":"nominal","scale":{"domain":["tardif","transfo","precoce"],"range":["triangle-up","square","circle"]},"legend":null},
               "fill":{"field":"k","type":"nominal","scale":{"domain":["tardif","transfo","precoce"],"range":["#cfc72c","#f3c41a","#f3c41a"]},"legend":null}}},
  {"transform":[{"filter":"datum.c==1"}],"mark":{"type":"text","align":"center","baseline":"middle","font":"Liberation Sans","fontSize":19,"color":"#d8466e","xOffset":-22},"encoding":{"text":{"field":"k"}}},
  {"transform":[{"filter":"datum.k=='arrow'"}],"mark":{"type":"rule","stroke":"#111","strokeWidth":2,"xOffset":-30,"x2Offset":-13},"encoding":{"x2":{"field":"c"}}},
  {"transform":[{"filter":"datum.k=='arrow'"}],"mark":{"type":"point","shape":"triangle-right","filled":true,"fill":"#111","size":55,"opacity":1,"xOffset":-12}},
  {"transform":[{"filter":"datum.k=='dash'"}],"mark":{"type":"rule","stroke":"#111","strokeWidth":2,"strokeDash":[7,5],"xOffset":-30,"x2Offset":-8},"encoding":{"x2":{"field":"c"}}},
  {"transform":[{"filter":"datum.k=='limit'"}],"mark":{"type":"rule","stroke":"#d8466e","strokeWidth":2,"xOffset":-30,"x2Offset":-8},"encoding":{"x2":{"field":"c"}}}
  ]},
 {"layer": [
  {"data":{"values":[{}]},"mark":{"type":"text","text":"Analyses in-situ des clinopyroxènes des syénites du groupe CaNaS","font":"Liberation Serif","fontStyle":"italic","fontWeight":"bold","fontSize":21,"color":"#333","align":"center","baseline":"middle"},
   "encoding":{"x":{"datum":1.769,"type":"quantitative","scale":{"domain":[0,1,2],"range":[54,358,609]}},"y":{"datum":-1.52,"type":"quantitative","scale":{"domain":[0,2],"range":[52,98]}}}},
  {"data":{"values":[{}]},"mark":{"type":"rule","stroke":"#333","strokeWidth":1},
   "encoding":{"x":{"datum":0.697,"type":"quantitative","scale":{"domain":[0,1,2],"range":[54,358,609]}},"x2":{"datum":2.936},"y":{"datum":-1.08,"type":"quantitative","scale":{"domain":[0,2],"range":[52,98]}}}}
 ]}
 ]},
{"hconcat": [
{"width": 652, "height": 593,
 "layer": [
 {"encoding": {"x": {"field":"X","type":"quantitative","scale":{"domain":[-0.0727,1.0554],"nice":false,"zero":false},"axis":null},
               "y": {"field":"aeg","type":"quantitative","scale":{"domain":[-0.086,1.10],"nice":false,"zero":false},"axis":null}},
  "layer": [
  {"data":{"name":"grid"},"transform":[{"calculate":"datum.hd+datum.aeg/2","as":"X"},{"calculate":"datum.hd2+datum.aeg2/2","as":"X2"}],"mark":{"type":"rule","stroke":"#e8e8e8","strokeWidth":1},"encoding":{"x2":{"field":"X2"},"y2":{"field":"aeg2"}}},
  {"data":{"name":"bandc"},"transform":[{"calculate":"datum.hd+datum.aeg/2","as":"X"}],"mark":{"type":"line","filled":true,"fill":"#d3d3d3","stroke":null,"opacity":1},"encoding":{"order":{"value":null}}},
  {"data":{"name":"edges"},"transform":[{"calculate":"datum.hd+datum.aeg/2","as":"X"},{"calculate":"datum.hd2+datum.aeg2/2","as":"X2"}],"mark":{"type":"rule","stroke":"#3a3a3a","strokeWidth":1.3},"encoding":{"x2":{"field":"X2"},"y2":{"field":"aeg2"}}},
  {"data":{"name":"ticks"},"transform":[{"calculate":"datum.hd+datum.aeg/2","as":"X"},{"calculate":"datum.ax=='R' ? datum.aeg+0.009 : (datum.ax=='B' ? -0.009 : datum.aeg)","as":"aeg2"},{"calculate":"datum.ax=='L' ? -0.009 : (datum.ax=='B' ? datum.hd+0.009 : datum.hd)","as":"hd2"},{"calculate":"datum.hd2+datum.aeg2/2","as":"X2"}],"mark":{"type":"rule","stroke":"#3a3a3a","strokeWidth":1},"encoding":{"x2":{"field":"X2"},"y2":{"field":"aeg2"}}},
  {"data":{"name":"ticks"},"transform":[{"filter":"datum.ax=='L'"},{"calculate":"datum.hd+datum.aeg/2","as":"X"}],"mark":{"type":"text","align":"right","baseline":"middle","dx":-9,"dy":-5,"fontSize":13,"color":"#444"},"encoding":{"text":{"field":"lab"}}},
  {"data":{"name":"ticks"},"transform":[{"filter":"datum.ax=='R'"},{"calculate":"datum.hd+datum.aeg/2","as":"X"}],"mark":{"type":"text","align":"left","baseline":"middle","dx":6,"dy":-7,"fontSize":13,"color":"#444"},"encoding":{"text":{"field":"lab"}}},
  {"data":{"name":"ticks"},"transform":[{"filter":"datum.ax=='B'"},{"calculate":"datum.hd+datum.aeg/2","as":"X"}],"mark":{"type":"text","align":"center","baseline":"middle","dx":3,"dy":15,"fontSize":13,"color":"#444"},"encoding":{"text":{"field":"lab"}}},
  {"data":{"name":"limits"},"transform":[{"calculate":"datum.hd+datum.aeg/2","as":"X"},{"calculate":"datum.hd2+datum.aeg2/2","as":"X2"}],"mark":{"type":"rule","stroke":"#d8466e","strokeWidth":1.6},"encoding":{"x2":{"field":"X2"},"y2":{"field":"aeg2"}}},
  {"data":{"name":"letters"},"transform":[{"calculate":"datum.hd+datum.aeg/2","as":"X"}],"mark":{"type":"text","fontSize":24,"color":"#d8466e","baseline":"middle"},"encoding":{"text":{"field":"k"}}},
  {"data":{"name":"pts"},"transform":[{"calculate":"datum.hd+datum.aeg/2","as":"X"},{"calculate":"datum.grp=='CaNaS' && datum.stage=='tardif' ? 'CaNaS-T' : datum.grp","as":"cat"}],"mark":{"type":"point","filled":true,"size":100,"stroke":"#222","strokeWidth":0.7,"opacity":1},
   "encoding":{"shape":{"field":"stage","type":"nominal","scale":{"domain":["tardif","transfo","precoce"],"range":["triangle-up","square","circle"]},"legend":null},
               "fill":{"field":"cat","type":"nominal","scale":{"domain":["CaNaS-T","CaNaS","NaS","CaS","MGV"],"range":["#cfc72c","#f3c41a","#55aadc","#2f9e4c","#6a1616"]},"legend":null}}}
  ]},
 {"layer": [
  {"data":{"values":[{}]},"mark":{"type":"text","text":"Aeg","fontSize":25,"fontWeight":"bold","color":"#111","baseline":"middle"},"encoding":{"x":{"datum":0.497,"type":"quantitative"},"y":{"datum":1.034,"type":"quantitative"}}},
  {"data":{"values":[{}]},"mark":{"type":"text","text":"Di","fontSize":25,"fontWeight":"bold","color":"#111","baseline":"middle"},"encoding":{"x":{"datum":-0.038,"type":"quantitative"},"y":{"datum":-0.04,"type":"quantitative"}}},
  {"data":{"values":[{}]},"mark":{"type":"text","text":"Hd","fontSize":25,"fontWeight":"bold","color":"#111","baseline":"middle"},"encoding":{"x":{"datum":1.019,"type":"quantitative"},"y":{"datum":-0.04,"type":"quantitative"}}},
  {"data":{"values":[{}]},"mark":{"type":"rect","fill":"#fff","stroke":"#999","strokeWidth":1},"encoding":{"x":{"datum":-0.059,"type":"quantitative"},"x2":{"datum":0.0},"y":{"datum":1.064,"type":"quantitative"},"y2":{"datum":1.0}}},
  {"data":{"values":[{}]},"mark":{"type":"text","text":"c","font":"Liberation Serif","fontSize":28,"color":"#333","baseline":"middle"},"encoding":{"x":{"datum":-0.0295,"type":"quantitative"},"y":{"datum":1.034,"type":"quantitative"}}}
 ]}
 ]},
{"width": 652, "height": 593,
 "layer": [
 {"encoding": {"x": {"field":"X","type":"quantitative","scale":{"domain":[-0.0571,1.0709],"nice":false,"zero":false},"axis":null},
               "y": {"field":"aeg","type":"quantitative","scale":{"domain":[-0.086,1.10],"nice":false,"zero":false},"axis":null}},
  "layer": [
  {"data":{"name":"grid"},"transform":[{"calculate":"datum.hd+datum.aeg/2","as":"X"},{"calculate":"datum.hd2+datum.aeg2/2","as":"X2"}],"mark":{"type":"rule","stroke":"#ededed","strokeWidth":1},"encoding":{"x2":{"field":"X2"},"y2":{"field":"aeg2"}}},
  {"data":{"name":"bandd"},"transform":[{"calculate":"datum.hd+datum.aeg/2","as":"X"}],"mark":{"type":"line","filled":true,"fill":"#a9a9a9","stroke":null,"opacity":1},"encoding":{"order":{"value":null}}},
  {"data":{"name":"edges"},"transform":[{"calculate":"datum.hd+datum.aeg/2","as":"X"},{"calculate":"datum.hd2+datum.aeg2/2","as":"X2"}],"mark":{"type":"rule","stroke":"#3a3a3a","strokeWidth":1.1},"encoding":{"x2":{"field":"X2"},"y2":{"field":"aeg2"}}},
  {"data":{"name":"ticks"},"transform":[{"calculate":"datum.hd+datum.aeg/2","as":"X"},{"calculate":"datum.ax=='R' ? datum.aeg+0.009 : (datum.ax=='B' ? -0.009 : datum.aeg)","as":"aeg2"},{"calculate":"datum.ax=='L' ? -0.009 : (datum.ax=='B' ? datum.hd+0.009 : datum.hd)","as":"hd2"},{"calculate":"datum.hd2+datum.aeg2/2","as":"X2"}],"mark":{"type":"rule","stroke":"#3a3a3a","strokeWidth":1},"encoding":{"x2":{"field":"X2"},"y2":{"field":"aeg2"}}},
  {"data":{"name":"ticks"},"transform":[{"filter":"datum.ax=='L'"},{"calculate":"datum.hd+datum.aeg/2","as":"X"}],"mark":{"type":"text","align":"right","baseline":"middle","dx":-9,"dy":-5,"fontSize":13,"color":"#444"},"encoding":{"text":{"field":"lab"}}},
  {"data":{"name":"ticks"},"transform":[{"filter":"datum.ax=='R'"},{"calculate":"datum.hd+datum.aeg/2","as":"X"}],"mark":{"type":"text","align":"left","baseline":"middle","dx":6,"dy":-7,"fontSize":13,"color":"#444"},"encoding":{"text":{"field":"lab"}}},
  {"data":{"name":"ticks"},"transform":[{"filter":"datum.ax=='B'"},{"calculate":"datum.hd+datum.aeg/2","as":"X"}],"mark":{"type":"text","align":"center","baseline":"middle","dx":3,"dy":15,"fontSize":13,"color":"#444"},"encoding":{"text":{"field":"lab"}}},
  {"data":{"name":"limits"},"transform":[{"calculate":"datum.hd+datum.aeg/2","as":"X"},{"calculate":"datum.hd2+datum.aeg2/2","as":"X2"}],"mark":{"type":"rule","stroke":"#d8466e","strokeWidth":1.6},"encoding":{"x2":{"field":"X2"},"y2":{"field":"aeg2"}}},
  {"data":{"name":"letters"},"transform":[{"calculate":"datum.hd+datum.aeg/2","as":"X"}],"mark":{"type":"text","fontSize":24,"color":"#d8466e","baseline":"middle"},"encoding":{"text":{"field":"k"}}},
  {"data":{"name":"paths"},"transform":[{"filter":"datum.p=='d' && datum.kind=='inf'"},{"calculate":"datum.hd+datum.aeg/2","as":"X"}],"mark":{"type":"line","stroke":"#111","strokeWidth":1.8,"strokeDash":[8,6]},"encoding":{"detail":{"field":"id"},"order":{"value":null}}},
  {"data":{"name":"pts"},"transform":[{"calculate":"datum.hd+datum.aeg/2","as":"X"}],"mark":{"type":"point","filled":true,"fill":"#fff","size":100,"stroke":"#444","strokeWidth":0.9,"opacity":1},
   "encoding":{"shape":{"field":"stage","type":"nominal","scale":{"domain":["tardif","transfo","precoce"],"range":["triangle-up","square","circle"]},"legend":null}}},
  {"data":{"name":"paths"},"transform":[{"filter":"datum.kind=='main'"},{"calculate":"datum.hd+datum.aeg/2","as":"X"}],"mark":{"type":"line","stroke":"#000","strokeWidth":5,"interpolate":"catmull-rom","strokeCap":"round"},"encoding":{"order":{"value":null}}},
  {"data":{"name":"arrows"},"transform":[{"filter":"datum.p=='d'"},{"calculate":"datum.hd+datum.aeg/2","as":"X"},{"calculate":"atan2((datum.hd+datum.aeg/2-datum.hd0-datum.aeg0/2)*578,(datum.aeg-datum.aeg0)*500)*180/PI","as":"ang"}],"mark":{"type":"point","shape":"triangle-up","filled":true,"fill":"#111","size":45,"opacity":1},"encoding":{"angle":{"field":"ang","type":"quantitative","scale":null}}},
  {"data":{"name":"arrows"},"transform":[{"filter":"datum.p=='dm'"},{"calculate":"datum.hd+datum.aeg/2","as":"X"},{"calculate":"atan2((datum.hd+datum.aeg/2-datum.hd0-datum.aeg0/2)*578,(datum.aeg-datum.aeg0)*500)*180/PI","as":"ang"}],"mark":{"type":"point","shape":"triangle-up","filled":true,"fill":"#000","size":420,"opacity":1},"encoding":{"angle":{"field":"ang","type":"quantitative","scale":null}}},
  {"data":{"name":"stars"},"transform":[{"calculate":"datum.hd+datum.aeg/2","as":"X"}],"mark":{"type":"point","shape":"M0,-1L0.2245,-0.309L0.951,-0.309L0.363,0.118L0.588,0.809L0,0.382L-0.588,0.809L-0.363,0.118L-0.951,-0.309L-0.2245,-0.309Z","filled":true,"fill":"#f0385a","stroke":"#c8102e","strokeWidth":1,"size":220,"opacity":1}}
  ]},
 {"layer": [
  {"data":{"values":[{}]},"mark":{"type":"text","text":"Aeg","fontSize":25,"fontWeight":"bold","color":"#111","baseline":"middle"},"encoding":{"x":{"datum":0.493,"type":"quantitative"},"y":{"datum":1.034,"type":"quantitative"}}},
  {"data":{"values":[{}]},"mark":{"type":"text","text":"Di","fontSize":25,"fontWeight":"bold","color":"#111","baseline":"middle"},"encoding":{"x":{"datum":-0.012,"type":"quantitative"},"y":{"datum":-0.04,"type":"quantitative"}}},
  {"data":{"values":[{}]},"mark":{"type":"text","text":"Hd","fontSize":25,"fontWeight":"bold","color":"#111","baseline":"middle"},"encoding":{"x":{"datum":1.017,"type":"quantitative"},"y":{"datum":-0.04,"type":"quantitative"}}},
  {"data":{"values":[{}]},"mark":{"type":"rect","fill":"#fff","stroke":"#999","strokeWidth":1},"encoding":{"x":{"datum":0.99,"type":"quantitative"},"x2":{"datum":1.05},"y":{"datum":1.064,"type":"quantitative"},"y2":{"datum":1.0}}},
  {"data":{"values":[{}]},"mark":{"type":"text","text":"d","font":"Liberation Serif","fontSize":28,"color":"#333","baseline":"middle"},"encoding":{"x":{"datum":1.02,"type":"quantitative"},"y":{"datum":1.034,"type":"quantitative"}}}
 ]}
 ]}
], "spacing": 0, "bounds": "flush", "resolve": {"scale": {"x": "independent", "y": "independent", "shape": "independent", "fill": "independent", "color": "independent"}}},
{"width": 1298, "height": 143,
 "view": {"stroke": "#666", "strokeWidth": 1.5},
 "data": {"name": "leg2"},
 "layer": [
 {"encoding": {"x": {"field":"c","type":"quantitative","scale":{"domain":[0,1,2,3],"range":[40,323,749,984]},"axis":null},
               "y": {"field":"r","type":"quantitative","scale":{"domain":[0,4],"range":[45,131]},"axis":null}},
  "layer": [
  {"mark":{"type":"text","align":"left","baseline":"middle","fontSize":16.5,"color":"#222"},"encoding":{"text":{"field":"t"}}},
  {"transform":[{"filter":"datum.c==0 && datum.k!='band' && datum.k!=''"}],"mark":{"type":"point","filled":true,"fill":"#fff","size":130,"stroke":"#444","strokeWidth":1,"opacity":1,"xOffset":-21},
   "encoding":{"shape":{"field":"k","type":"nominal","scale":{"domain":["tardif","transfo","precoce"],"range":["triangle-up","square","circle"]},"legend":null}}},
  {"transform":[{"filter":"datum.k=='band'"}],"mark":{"type":"point","shape":"circle","filled":true,"fill":"#a9a9a9","size":190,"stroke":"#888","strokeWidth":1,"opacity":1,"xOffset":-21}},
  {"transform":[{"filter":"datum.c==1"}],"mark":{"type":"point","shape":"M0,-1L0.2245,-0.309L0.951,-0.309L0.363,0.118L0.588,0.809L0,0.382L-0.588,0.809L-0.363,0.118L-0.951,-0.309L-0.2245,-0.309Z","filled":true,"size":150,"stroke":"#555","strokeWidth":0.6,"opacity":1,"xOffset":-14},
   "encoding":{"fill":{"field":"k","type":"nominal","scale":{"domain":["MGV","CaS","CaNaS","NaS"],"range":["#6a1616","#2f9e4c","#f3c41a","#55aadc"]},"legend":null}}},
  {"transform":[{"filter":"datum.c==2 && datum.r<3"}],"mark":{"type":"text","align":"center","baseline":"middle","font":"Liberation Sans","fontSize":18,"color":"#d8466e","xOffset":-21},"encoding":{"text":{"field":"k"}}},
  {"transform":[{"filter":"datum.k=='limit'"}],"mark":{"type":"rule","stroke":"#d8466e","strokeWidth":2,"xOffset":-31,"x2Offset":-10},"encoding":{"x2":{"field":"c"}}},
  {"transform":[{"filter":"datum.k=='arrow'"}],"mark":{"type":"rule","stroke":"#111","strokeWidth":2,"xOffset":-34,"x2Offset":-15},"encoding":{"x2":{"field":"c"}}},
  {"transform":[{"filter":"datum.k=='arrow'"}],"mark":{"type":"point","shape":"triangle-right","filled":true,"fill":"#111","size":60,"opacity":1,"xOffset":-13}},
  {"transform":[{"filter":"datum.k=='dash'"}],"mark":{"type":"rule","stroke":"#111","strokeWidth":2,"strokeDash":[7,5],"xOffset":-34,"x2Offset":-10},"encoding":{"x2":{"field":"c"}}},
  {"transform":[{"filter":"datum.k=='change'"}],"mark":{"type":"point","shape":"M0,-1L0.2245,-0.309L0.951,-0.309L0.363,0.118L0.588,0.809L0,0.382L-0.588,0.809L-0.363,0.118L-0.951,-0.309L-0.2245,-0.309Z","filled":true,"fill":"#fff","stroke":"#e0203a","strokeWidth":2.5,"size":200,"opacity":1,"xOffset":-21}}
  ]},
 {"layer": [
  {"data":{"values":[{}]},"mark":{"type":"text","text":"Analyses in-situ et évolution des Cpx du complexe sud de Rallier du Baty","font":"Liberation Serif","fontStyle":"italic","fontWeight":"bold","fontSize":21,"color":"#333","align":"center","baseline":"middle"},
   "encoding":{"x":{"datum":1.775,"type":"quantitative","scale":{"domain":[0,1,2,3],"range":[40,323,749,984]}},"y":{"datum":-1.393,"type":"quantitative","scale":{"domain":[0,4],"range":[45,131]}}}},
  {"data":{"values":[{}]},"mark":{"type":"rule","stroke":"#333","strokeWidth":1},
   "encoding":{"x":{"datum":1.033,"type":"quantitative","scale":{"domain":[0,1,2,3],"range":[40,323,749,984]}},"x2":{"datum":2.949},"y":{"datum":-0.95,"type":"quantitative","scale":{"domain":[0,4],"range":[45,131]}}}}
 ]}
 ]}
]
}
